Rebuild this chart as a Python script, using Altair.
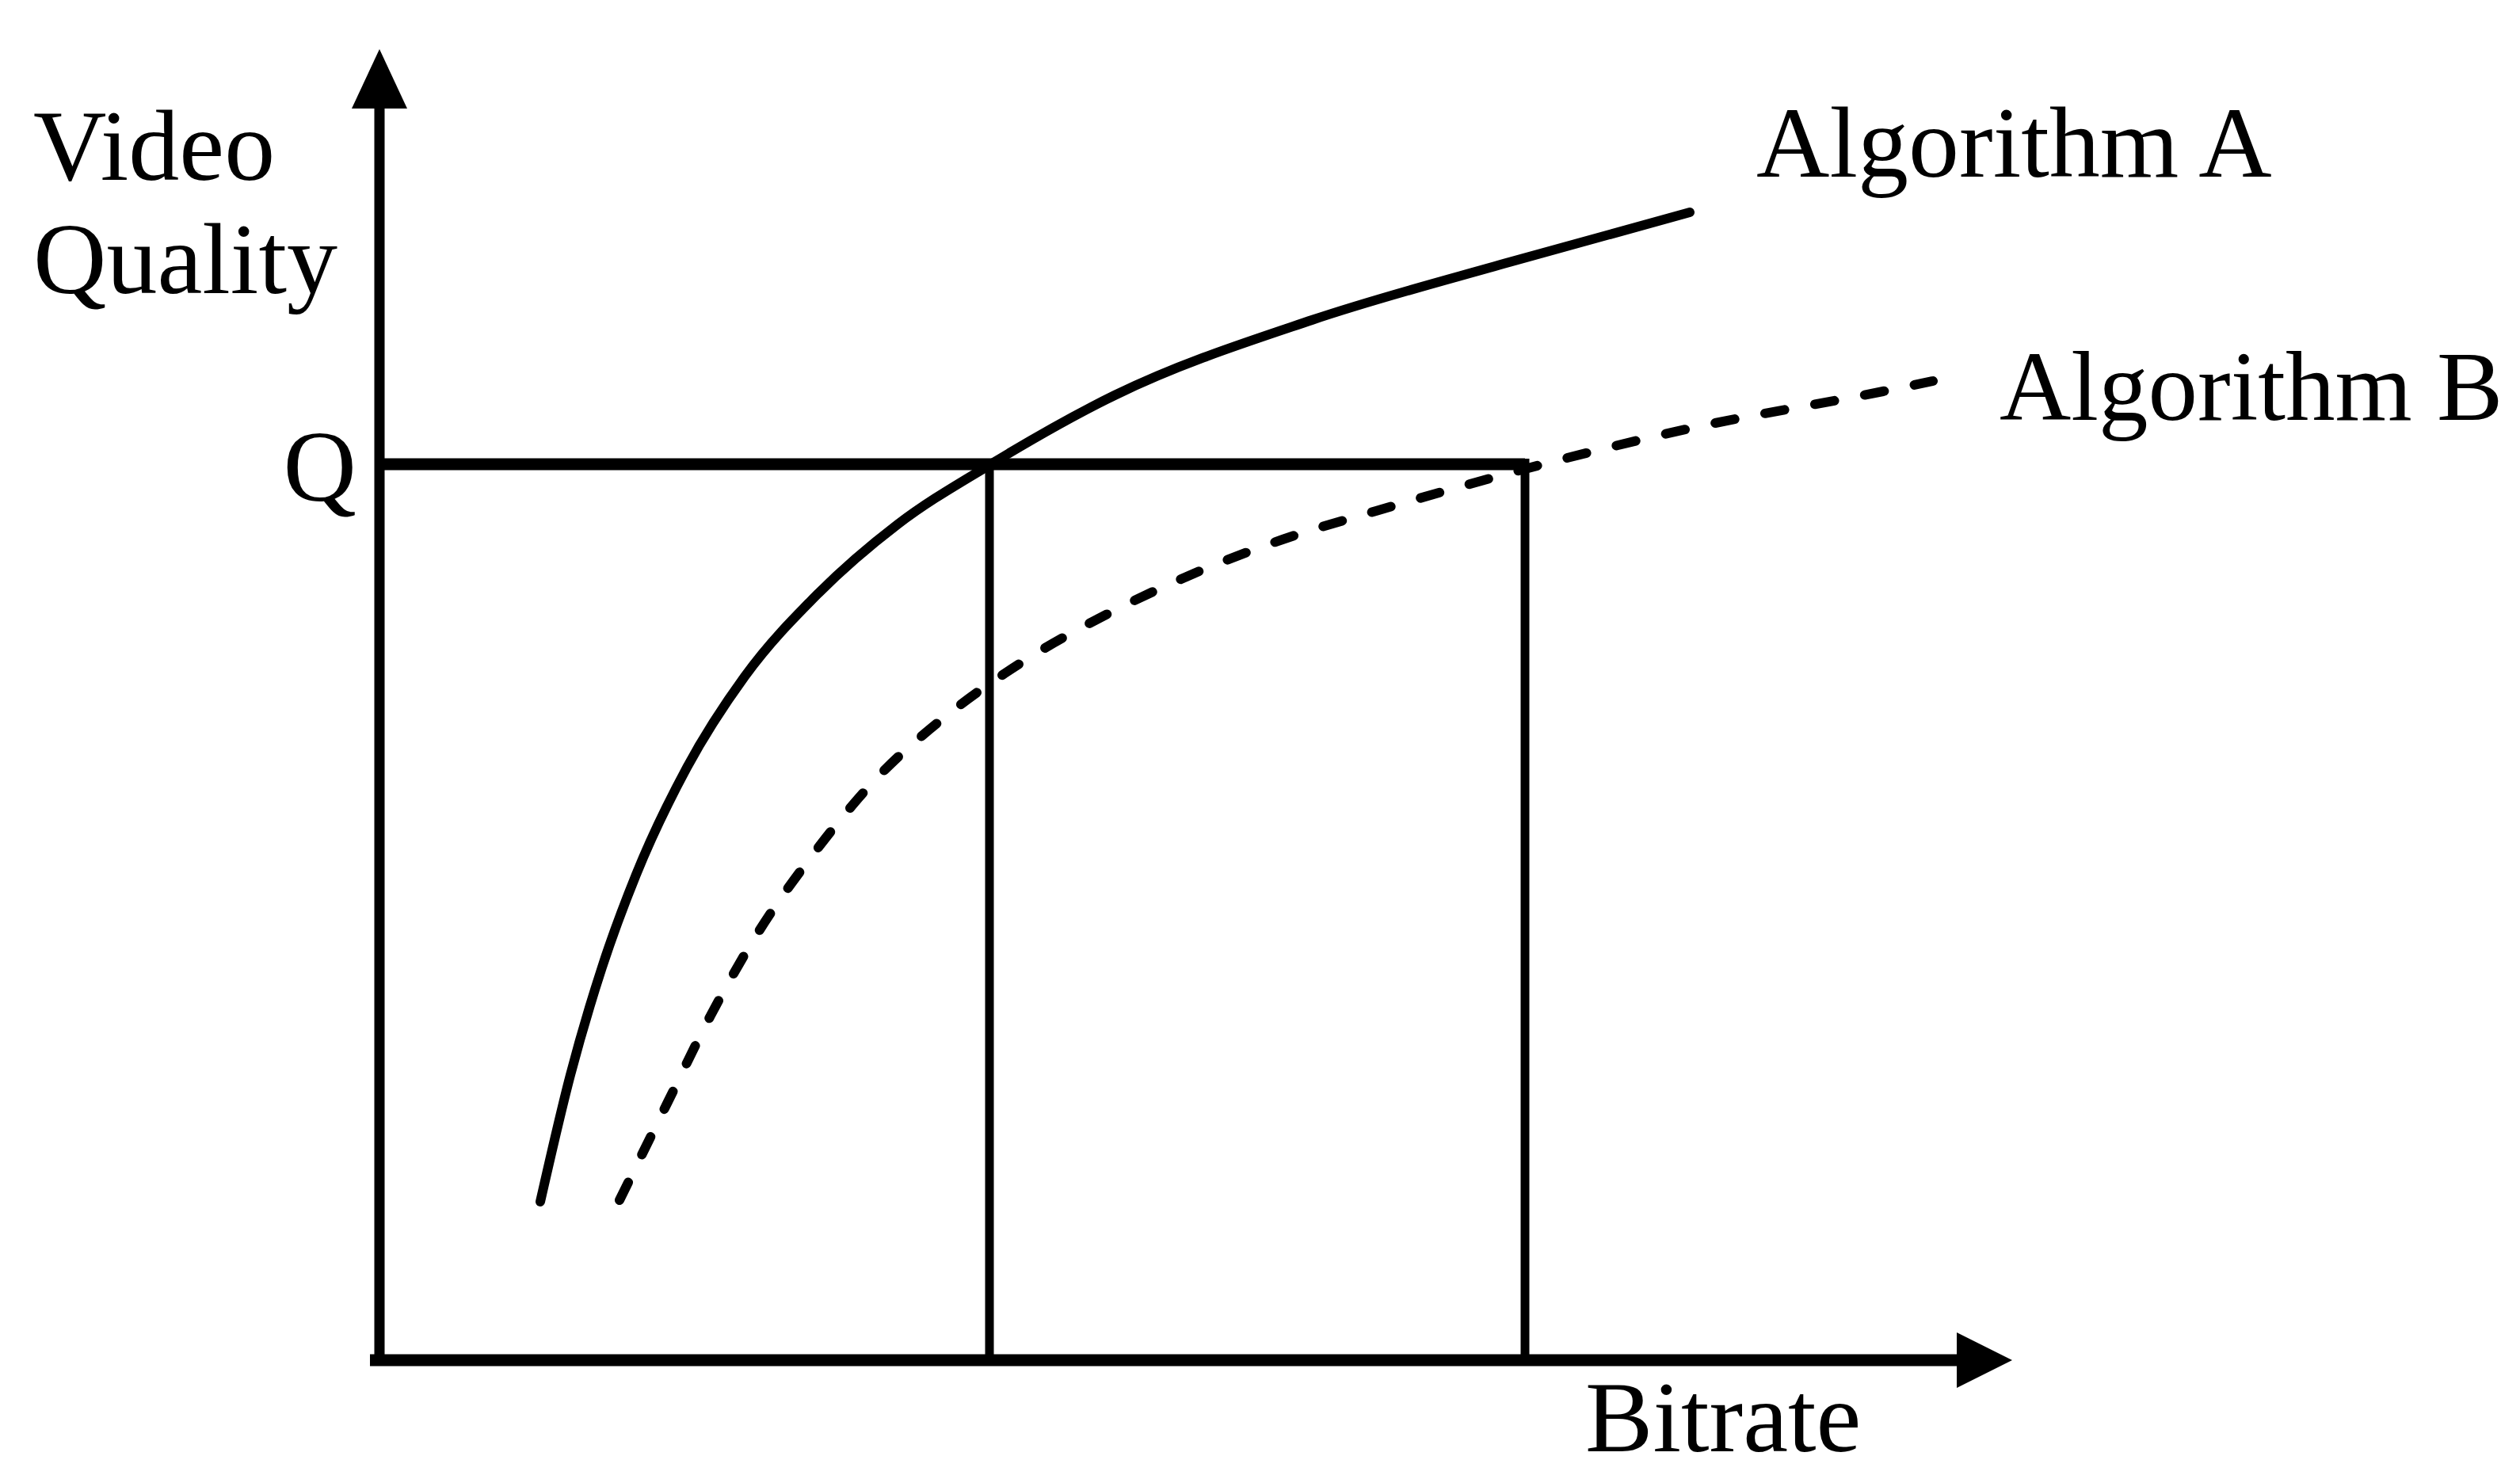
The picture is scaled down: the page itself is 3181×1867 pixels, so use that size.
import altair as alt
import pandas as pd

# ---- data (abstract units: 1 unit ~ 100 px) ----
a_bitrate = [2.03, 2.41, 2.81, 3.24, 3.88, 4.61, 5.54, 6.54, 7.70, 9.28, 11.77, 14.26, 16.54]
a_quality = [1.97, 3.57, 4.93, 6.10, 7.45, 8.60, 9.65, 10.52, 11.27, 12.15, 13.10, 13.83, 14.46]

b_bitrate = [3.03, 3.64, 4.18, 4.78, 5.50, 6.26, 7.15, 8.14, 9.21, 10.28, 11.40, 12.58,
             13.73, 14.84, 16.58, 18.98, 19.61]
b_quality = [1.99, 3.23, 4.32, 5.37, 6.39, 7.30, 8.10, 8.80, 9.40, 9.90, 10.33, 10.69,
             11.02, 11.32, 11.74, 12.20, 12.33]

q_level = 11.28          # quality level Q
bitrate_a_at_q = 7.70    # bitrate where algorithm A reaches Q
bitrate_b_at_q = 14.46   # bitrate where algorithm B reaches Q
x_axis_end = 19.93       # x arrow base
x_arrow_tip = 20.61
y_axis_end = 15.79       # y arrow base
y_arrow_tip = 16.52
arrow_half = 0.35

labels = ["Video", "Quality", "Q", "Algorithm A", "Algorithm B", "Bitrate"]
label_x = [-4.37, -4.37, -0.29, 17.38, 20.45, 15.22]
label_y = [14.87, 13.44, 10.82, 14.91, 11.84, -1.18]
label_align = ["left", "left", "right", "left", "left", "left"]
label_size = [128, 128, 128, 128, 125, 128]

# ---- scales ----
XS = alt.Scale(domain=[-4.71, 26.94], nice=False, zero=False)
YS = alt.Scale(domain=[-1.45, 17.06], nice=False, zero=False)

def X(f):
    return alt.X(f, type="quantitative", scale=XS, axis=None)

def Y(f):
    return alt.Y(f, type="quantitative", scale=YS, axis=None)

df_a = pd.DataFrame({"x": a_bitrate, "y": a_quality})
df_b = pd.DataFrame({"x": b_bitrate, "y": b_quality})

curve_a = alt.Chart(df_a).mark_line(
    interpolate="monotone", color="black", strokeWidth=12, strokeCap="round"
).encode(x=X("x"), y=Y("y"))

curve_b = alt.Chart(df_b).mark_line(
    interpolate="monotone", color="black", strokeWidth=12, strokeCap="round",
    strokeDash=[25, 39]
).encode(x=X("x"), y=Y("y"))

# axes
y_axis = alt.Chart(pd.DataFrame({"x": [0.0], "y": [-0.1], "y2": [y_axis_end]})).mark_rule(
    color="black", strokeWidth=13
).encode(x=X("x"), y=Y("y"), y2="y2")

x_axis = alt.Chart(pd.DataFrame({"x": [-0.12], "x2": [x_axis_end], "y": [-0.03]})).mark_rule(
    color="black", strokeWidth=15
).encode(x=X("x"), x2="x2", y=Y("y"))

x_arrow = alt.Chart(pd.DataFrame({
    "x": [x_axis_end - 0.02, x_arrow_tip],
    "y": [arrow_half - 0.03, -0.03],
    "y2": [-arrow_half - 0.03, -0.03],
})).mark_area(color="black").encode(x=X("x"), y=Y("y"), y2="y2")

y_arrow = alt.Chart(pd.DataFrame({
    "y": [y_axis_end - 0.02, y_arrow_tip],
    "x": [-arrow_half, 0.0],
    "x2": [arrow_half, 0.0],
})).mark_area(color="black", orient="horizontal").encode(y=Y("y"), x=X("x"), x2="x2")

# Q level and drop lines
q_line = alt.Chart(pd.DataFrame({"x": [0.0], "x2": [bitrate_b_at_q], "y": [q_level]})).mark_rule(
    color="black", strokeWidth=15
).encode(x=X("x"), x2="x2", y=Y("y"))

drops = alt.Chart(pd.DataFrame({
    "x": [bitrate_a_at_q, bitrate_b_at_q],
    "y": [0.0, 0.0],
    "y2": [q_level + 0.07, q_level + 0.07],
})).mark_rule(color="black", strokeWidth=11).encode(x=X("x"), y=Y("y"), y2="y2")

# labels
df_t = pd.DataFrame({"x": label_x, "y": label_y, "t": labels, "al": label_align, "s": label_size})
text_left = alt.Chart(df_t[df_t["al"] == "left"]).mark_text(
    font="Liberation Serif", color="black", align="left", baseline="alphabetic"
).encode(x=X("x"), y=Y("y"), text="t:N",
         size=alt.Size("s:Q", scale=None, legend=None))
text_right = alt.Chart(df_t[df_t["al"] == "right"]).mark_text(
    font="Liberation Serif", color="black", align="right", baseline="alphabetic"
).encode(x=X("x"), y=Y("y"), text="t:N",
         size=alt.Size("s:Q", scale=None, legend=None))

chart = alt.layer(
    q_line, drops, x_axis, y_axis, x_arrow, y_arrow, curve_a, curve_b, text_left, text_right
).properties(
    width=3165, height=1851,
    autosize=alt.AutoSizeParams(type="none"),
    padding=0,
    background="white",
).configure_view(stroke=None)

chart.save("out.html", embed_options={"renderer": "svg", "actions": False})
